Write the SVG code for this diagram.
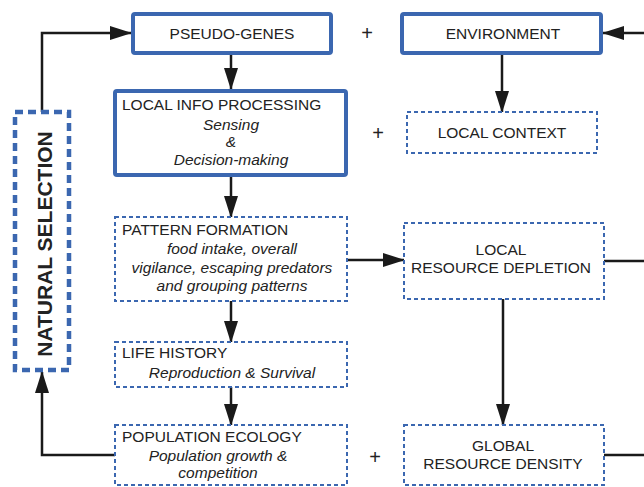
<svg xmlns="http://www.w3.org/2000/svg" width="644" height="487" viewBox="0 0 644 487">
<style>
.thick{fill:#fff;stroke:#3b67b0;stroke-width:4}
.dash{fill:#fff;stroke:#3b67b0;stroke-width:2;stroke-dasharray:4 3}
.ns{fill:#fff;stroke:#3b67b0;stroke-width:4.5;stroke-dasharray:8 5}
text{font-family:"Liberation Sans",Arial,sans-serif;fill:#222;font-size:15.5px}
.c{text-anchor:middle}
.i{font-style:italic}
.plus{font-size:20px;text-anchor:middle}
.conn{fill:none;stroke:#1a1a1a;stroke-width:2.5}
</style>
<defs>
<marker id="ah" markerUnits="userSpaceOnUse" markerWidth="22" markerHeight="14" refX="21" refY="7" orient="auto">
<path d="M0,0 L22,7 L0,14 z" fill="#1a1a1a"/>
</marker>
</defs>
<rect width="644" height="487" fill="#fff"/>
<g id="connectors">
<path class="conn" d="M42,112 V33 H131" marker-end="url(#ah)"/>
<path class="conn" d="M231,55 V89" marker-end="url(#ah)"/>
<path class="conn" d="M502,55 V112" marker-end="url(#ah)"/>
<path class="conn" d="M644,33 H603" marker-end="url(#ah)"/>
<path class="conn" d="M231,177 V217" marker-end="url(#ah)"/>
<path class="conn" d="M347,260 H404" marker-end="url(#ah)"/>
<path class="conn" d="M604,261 H644"/>
<path class="conn" d="M231,301 V342" marker-end="url(#ah)"/>
<path class="conn" d="M231,387 V425" marker-end="url(#ah)"/>
<path class="conn" d="M503,299 V425" marker-end="url(#ah)"/>
<path class="conn" d="M604,455 H644"/>
<path class="conn" d="M115,455 H42 V372" marker-end="url(#ah)"/>
</g>
<g id="pseudo-genes">
<rect class="thick" x="133" y="14" width="198" height="39" rx="2"/>
<text class="c" x="232" y="39">PSEUDO-GENES</text>
</g>
<text class="plus" x="367" y="40">+</text>
<g id="environment">
<rect class="thick" x="402" y="14" width="199" height="39" rx="2"/>
<text class="c" x="503" y="39">ENVIRONMENT</text>
</g>
<g id="local-info">
<rect class="thick" x="115" y="91" width="231" height="84" rx="2"/>
<text x="122" y="110">LOCAL INFO PROCESSING</text>
<text class="c i" x="231" y="130">Sensing</text>
<text class="c i" x="231" y="147">&amp;</text>
<text class="c i" x="231" y="165">Decision-making</text>
</g>
<text class="plus" x="378" y="140">+</text>
<g id="local-context">
<rect class="dash" x="407" y="112" width="190" height="41"/>
<text class="c" x="502" y="138">LOCAL CONTEXT</text>
</g>
<g id="natural-selection">
<rect class="ns" x="15" y="112" width="54" height="258"/>
<text transform="translate(52,244) rotate(-90)" text-anchor="middle" font-weight="bold" style="font-size:21px">NATURAL SELECTION</text>
</g>
<g id="pattern-formation">
<rect class="dash" x="115" y="217" width="232" height="84"/>
<text x="122" y="235">PATTERN FORMATION</text>
<text class="c i" x="232" y="254">food intake, overall</text>
<text class="c i" x="232" y="273">vigilance, escaping predators</text>
<text class="c i" x="232" y="291">and grouping patterns</text>
</g>
<g id="local-resource-depletion">
<rect class="dash" x="404" y="223" width="200" height="76"/>
<text class="c" x="501" y="255">LOCAL</text>
<text class="c" x="501" y="273">RESOURCE DEPLETION</text>
</g>
<g id="life-history">
<rect class="dash" x="115" y="342" width="232" height="45"/>
<text x="122" y="358">LIFE HISTORY</text>
<text class="c i" x="232" y="378">Reproduction &amp; Survival</text>
</g>
<g id="population-ecology">
<rect class="dash" x="115" y="425" width="232" height="60"/>
<text x="122" y="442">POPULATION ECOLOGY</text>
<text class="c i" x="218" y="461">Population growth &amp;</text>
<text class="c i" x="218" y="478">competition</text>
</g>
<text class="plus" x="375" y="464">+</text>
<g id="global-resource-density">
<rect class="dash" x="404" y="425" width="200" height="60"/>
<text class="c" x="503" y="451">GLOBAL</text>
<text class="c" x="503" y="469">RESOURCE DENSITY</text>
</g>
</svg>
